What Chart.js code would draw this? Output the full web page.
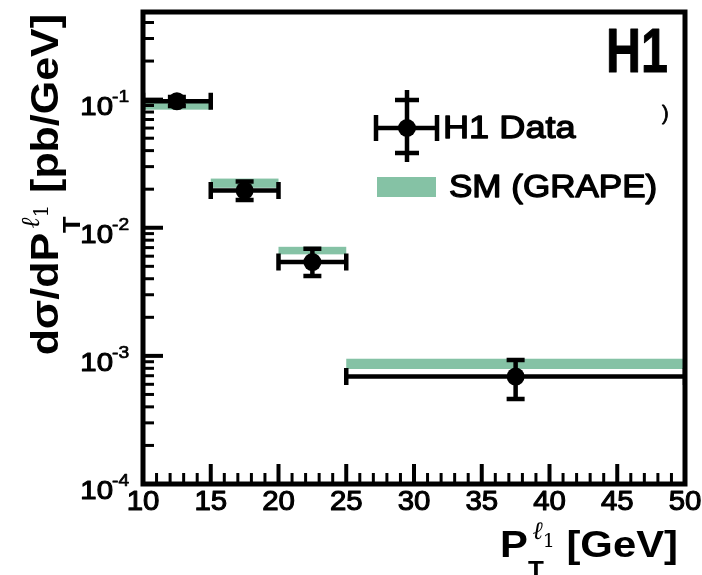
<!DOCTYPE html>
<html>
<head>
<meta charset="utf-8">
<script src="https://cdn.jsdelivr.net/npm/chart.js@4.4.0/dist/chart.umd.min.js"></script>
<style>
  html, body { margin: 0; padding: 0; background: #fff; }
  canvas { display: block; }
</style>
</head>
<body>
<canvas id="c" width="702" height="575"></canvas>
<script>
// leading lepton pT bins [GeV]
const binLow = [10, 15, 20, 25];
const binHigh = [15, 20, 25, 50];
const binCentre = [12.5, 17.5, 22.5, 37.5];

// H1 data, dsigma/dpT [pb/GeV]
const dataValues = [0.097, 0.0195, 0.0054, 0.00069];
const dataErrUp = [0.008, 0.0035, 0.00145, 0.00024];
const dataErrDown = [0.008, 0.003, 0.0012, 0.00023];

// SM (GRAPE) prediction, band edges
const smLow = [0.0835, 0.0205, 0.0062, 0.00079];
const smHigh = [0.0947, 0.0242, 0.0071, 0.00095];

// axes
const xMajorTicks = [10, 15, 20, 25, 30, 35, 40, 45, 50];
const yMajorTicks = [1e-4, 1e-3, 1e-2, 1e-1];
const yTickExponents = ['-4', '-3', '-2', '-1'];

const SM_COLOR = '#85c2a5';
const FONT = '"Liberation Sans", Arial, sans-serif';
const SX = 1.13; // text is drawn a little wide, like the ROOT Helvetica

// draws one run of text at (x, y) baseline-left, returns its advance
function put(ctx, str, x, y, font, draw = true, sx = SX, thick = 0) {
  ctx.font = font;
  const w = ctx.measureText(str).width * sx;
  if (draw) {
    ctx.save();
    ctx.translate(x, y);
    ctx.scale(sx, 1);
    ctx.textAlign = 'left';
    ctx.textBaseline = 'alphabetic';
    ctx.fillStyle = '#000';
    ctx.fillText(str, 0, 0);
    if (thick) {
      ctx.strokeStyle = '#000';
      ctx.lineWidth = thick;
      ctx.lineJoin = 'round';
      ctx.strokeText(str, 0, 0);
    }
    ctx.restore();
  }
  return w;
}

// "<pre> P_T^{l_1} <post>" style title, drawn from the origin along +x
function pTTitle(ctx, pre, post, size, draw) {
  const big = `bold ${size}px ${FONT}`;
  const sub = `bold ${Math.round(size * 0.63)}px ${FONT}`;
  const ell = `italic ${Math.round(size * 0.68)}px "DejaVu Serif"`;
  const one = `${Math.round(size * 0.52)}px "DejaVu Serif"`;
  let x = put(ctx, pre, 0, 0, big, draw);
  const tEnd = x + put(ctx, 'T', x, size * 0.58, sub, draw);
  let e = x + size * 0.12;
  e += put(ctx, '\u2113', e, -size * 0.5, ell, draw, 1);
  e += put(ctx, '1', e, -size * 0.27, one, draw, 1);
  x = Math.max(tEnd, e);
  x += put(ctx, post, x, 0, big, draw);
  return x;
}

function errorBar(ctx, x1, y1, x2, y2, cap, vertical) {
  ctx.beginPath();
  ctx.moveTo(x1, y1);
  ctx.lineTo(x2, y2);
  if (vertical) {
    ctx.moveTo(x1 - cap, y1); ctx.lineTo(x1 + cap, y1);
    ctx.moveTo(x2 - cap, y2); ctx.lineTo(x2 + cap, y2);
  } else {
    ctx.moveTo(x1, y1 - cap); ctx.lineTo(x1, y1 + cap);
    ctx.moveTo(x2, y2 - cap); ctx.lineTo(x2, y2 + cap);
  }
  ctx.stroke();
}

const h1Plot = {
  id: 'h1Plot',
  beforeDatasetsDraw(chart) {
    const { ctx, scales: { x, y }, chartArea: a } = chart;
    ctx.save();
    ctx.beginPath();
    ctx.rect(a.left, a.top, a.right - a.left, a.bottom - a.top);
    ctx.clip();
    // SM band
    ctx.fillStyle = SM_COLOR;
    binLow.forEach((lo, i) => {
      const x0 = x.getPixelForValue(lo), x1 = x.getPixelForValue(binHigh[i]);
      const y0 = y.getPixelForValue(smHigh[i]), y1 = y.getPixelForValue(smLow[i]);
      ctx.fillRect(x0, y0, x1 - x0, y1 - y0);
    });
    // data error bars
    ctx.strokeStyle = '#000';
    ctx.lineWidth = 4.5;
    binCentre.forEach((c, i) => {
      const yc = y.getPixelForValue(dataValues[i]);
      const xc = x.getPixelForValue(c);
      errorBar(ctx, x.getPixelForValue(binLow[i]), yc, x.getPixelForValue(binHigh[i]), yc, 8.5, false);
      errorBar(ctx, xc, y.getPixelForValue(dataValues[i] + dataErrUp[i]),
               xc, y.getPixelForValue(dataValues[i] - dataErrDown[i]), 9, true);
    });
    ctx.restore();
  },
  afterDatasetsDraw(chart) {
    const { ctx, scales: { x, y }, chartArea: a } = chart;
    ctx.save();
    ctx.strokeStyle = '#000';
    ctx.fillStyle = '#000';

    // ticks, drawn inwards from the left and bottom edges
    for (let v = 11; v < 50; v++) {
      const major = v % 5 === 0;
      const px = x.getPixelForValue(v);
      ctx.lineWidth = major ? 4 : 3;
      ctx.beginPath();
      ctx.moveTo(px, a.bottom);
      ctx.lineTo(px, a.bottom - (major ? 20 : 11));
      ctx.stroke();
    }
    for (let d = 1e-4; d < y.max; d *= 10) {
      for (let m = 1; m < 10; m++) {
        const v = d * m;
        if (v > y.max || (m === 1 && d === 1e-4)) continue;
        const py = y.getPixelForValue(v);
        ctx.lineWidth = m === 1 ? 4 : 3;
        ctx.beginPath();
        ctx.moveTo(a.left, py);
        ctx.lineTo(a.left + (m === 1 ? 20 : 11), py);
        ctx.stroke();
      }
    }

    // frame
    ctx.lineWidth = 5;
    ctx.strokeRect(a.left, a.top, a.right - a.left, a.bottom - a.top);

    // tick labels
    const tickFont = `28px ${FONT}`;
    xMajorTicks.forEach(v => {
      const w = put(ctx, String(v), 0, 0, tickFont, false, 1.05);
      put(ctx, String(v), x.getPixelForValue(v) - w / 2, a.bottom + 26, tickFont, true, 1.05, 1.1);
    });
    yMajorTicks.forEach((v, i) => {
      const py = y.getPixelForValue(v);
      const w = put(ctx, '10', 0, 0, `26px ${FONT}`, false);
      put(ctx, '10', 113 - w, py + 15, `26px ${FONT}`, true, SX, 1.1);
      put(ctx, yTickExponents[i], 112, py + 2, `17px ${FONT}`, true, SX, 0.7);
    });

    // axis titles
    ctx.save();
    ctx.translate(500, 557);
    pTTitle(ctx, 'P', ' [GeV]', 37, true);
    ctx.restore();

    const wy = pTTitle(ctx, 'd\u03c3/dP', ' [pb/GeV]', 38, false);
    ctx.save();
    ctx.translate(58, 14 + wy);
    ctx.rotate(-Math.PI / 2);
    pTTitle(ctx, 'd\u03c3/dP', ' [pb/GeV]', 38, true);
    ctx.restore();

    // experiment tag
    put(ctx, 'H1', 606, 72, `bold 63px ${FONT}`, true, 0.77, 1);

    // legend
    ctx.lineWidth = 4.5;
    errorBar(ctx, 376, 128, 437, 128, 13, false);
    ctx.beginPath();
    ctx.moveTo(407, 90); ctx.lineTo(407, 162);
    ctx.moveTo(395, 100); ctx.lineTo(419, 100);
    ctx.moveTo(395, 153); ctx.lineTo(419, 153);
    ctx.stroke();
    ctx.beginPath();
    ctx.arc(407, 128, 9, 0, Math.PI * 2);
    ctx.fill();
    put(ctx, 'H1 Data', 443, 138, `32px ${FONT}`, true, SX, 1.3);
    ctx.fillStyle = SM_COLOR;
    ctx.fillRect(377, 177, 59, 20);
    put(ctx, 'SM (GRAPE)', 449, 197, `31px ${FONT}`, true, SX, 1.3);
    put(ctx, ')', 662, 120, `20px ${FONT}`, true, 1, 0.8);

    ctx.restore();
  }
};

new Chart(document.getElementById('c'), {
  type: 'scatter',
  data: {
    datasets: [{
      label: 'H1 Data',
      data: binCentre.map((c, i) => ({ x: c, y: dataValues[i] })),
      pointRadius: 9,
      pointHoverRadius: 9,
      pointBorderWidth: 0,
      pointBackgroundColor: '#000',
    }],
  },
  options: {
    responsive: false,
    animation: false,
    events: [],
    layout: { padding: { left: 143, right: 17, top: 12, bottom: 91 } },
    scales: {
      x: { type: 'linear', min: 10, max: 50, display: false },
      y: { type: 'logarithmic', min: 1e-4, max: 0.483, display: false },
    },
    plugins: {
      legend: { display: false },
      tooltip: { enabled: false },
    },
  },
  plugins: [h1Plot],
});
</script>
</body>
</html>
